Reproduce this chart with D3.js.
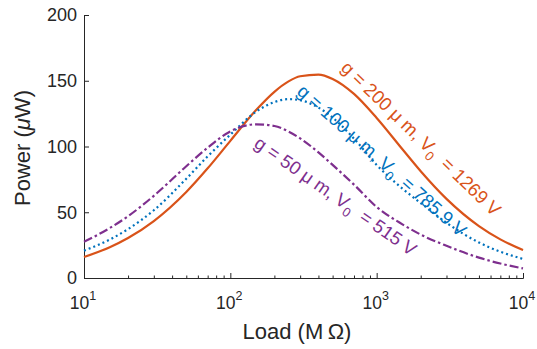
<!DOCTYPE html>
<html>
<head>
<meta charset="utf-8">
<script src="https://cdn.jsdelivr.net/npm/d3@7"></script>
<style>
  body { margin: 0; background: #fff; }
  svg { font-family: "Liberation Sans", Arial, Helvetica, sans-serif; }
  .axis path, .axis line { stroke: #262626; stroke-width: 1; }
  .axis text { fill: #262626; font-size: 18px; }
</style>
</head>
<body>
<div id="chart"></div>
<script>
// load resistance (MOhm), sampled on a log grid
var loads = [10, 15, 20, 30, 50, 70, 100, 150, 200, 250, 300, 400, 500, 700, 1000, 1500, 2000, 3000, 5000, 7000, 10000];

// output power (uW) for each gap
var power200 = [16.0, 23.4, 30.4, 43.3, 65.4, 83.4, 104.3, 127.7, 141.6, 149.5, 153.4, 154.7, 151.4, 140.0, 121.7, 97.9, 81.2, 60.2, 39.5, 29.4, 21.2];
var power100 = [20.8, 29.2, 37.2, 51.5, 75.5, 92.5, 109.0, 126.5, 133.8, 136.0, 135.2, 129.6, 122.0, 106.0, 86.0, 68.0, 57.0, 42.0, 27.0, 20.0, 14.5];
var power50  = [27.5, 38.0, 47.0, 62.5, 85.0, 99.1, 111.5, 116.9, 115.6, 111.4, 106.2, 95.5, 86.0, 71.0, 54.0, 40.8, 33.0, 24.5, 15.5, 11.0, 7.3];

var xMajor = [10, 100, 1000, 10000];
var xExp = ["1", "2", "3", "4"];
var yTicks = [0, 50, 100, 150, 200];

var series = [
    {gap: "200", volt: "1269", values: power200, color: "#D95319", dash: null},
    {gap: "100", volt: "785.9", values: power100, color: "#0072BD", dash: "2,3"},
    {gap: "50", volt: "515", values: power50, color: "#7E2F8E", dash: "9,3,2.5,3"}
];

var width = 537, height = 349;
var plotLeft = 84, plotRight = 523, plotTop = 15, plotBottom = 278;

var svg = d3.select("#chart").append("svg")
    .attr("width", width)
    .attr("height", height);

var x = d3.scaleLog().domain([10, 10000]).range([plotLeft, plotRight]);
var y = d3.scaleLinear().domain([0, 200]).range([plotBottom, plotTop]);

// minor ticks 2..9 inside each decade
var xMinor = [];
for (var d = 10; d < 10000; d *= 10) {
    for (var k = 2; k < 10; k++) xMinor.push(d * k);
}

svg.append("g")
    .attr("class", "axis")
    .attr("transform", "translate(0," + plotBottom + ")")
    .call(d3.axisBottom(x).tickValues(xMinor).tickSize(-2.5).tickSizeOuter(0).tickFormat(""));

svg.append("g")
    .attr("class", "axis")
    .attr("transform", "translate(0," + plotBottom + ")")
    .call(d3.axisBottom(x).tickValues(xMajor).tickSize(-5).tickSizeOuter(0).tickFormat(""));

// powers of ten with a raised exponent
xMajor.forEach(function(v, i) {
    var t = svg.append("text")
        .attr("x", x(v) - 1)
        .attr("y", 309)
        .attr("text-anchor", "middle")
        .style("font-size", "17.5px")
        .style("fill", "#262626");
    t.append("tspan").text("10");
    t.append("tspan").attr("dy", -9).style("font-size", "12.5px").text(xExp[i]);
});

svg.append("g")
    .attr("class", "axis")
    .attr("transform", "translate(" + plotLeft + ",0)")
    .call(d3.axisLeft(y).tickValues(yTicks).tickSize(-5).tickSizeOuter(0).tickPadding(7));

// axis titles
svg.append("text")
    .attr("x", 297)
    .attr("y", 339)
    .attr("text-anchor", "middle")
    .style("font-size", "22px")
    .style("fill", "#262626")
    .text("Load (M\u2009\u03A9)");

var yl = svg.append("text")
    .attr("transform", "translate(30,148) rotate(-90)")
    .attr("text-anchor", "middle")
    .style("font-size", "22px")
    .style("fill", "#262626");
yl.append("tspan").text("Power (");
yl.append("tspan").style("font-style", "italic").text("\u03BC");
yl.append("tspan").text("W)");

var line = d3.line()
    .x(function(d) { return x(d[0]); })
    .y(function(d) { return y(d[1]); })
    .curve(d3.curveMonotoneX);

series.forEach(function(s) {
    svg.append("path")
        .datum(loads.map(function(l, i) { return [l, s.values[i]]; }))
        .attr("fill", "none")
        .attr("stroke", s.color)
        .attr("stroke-width", 2.2)
        .attr("stroke-dasharray", s.dash)
        .attr("d", line);
});

// rotated curve labels
var labelPos = [
    {px: 340, py: 69, angle: 44},
    {px: 296, py: 93, angle: 41.5},
    {px: 253, py: 146, angle: 35}
];

series.forEach(function(s, i) {
    var p = labelPos[i];
    var t = svg.append("text")
        .attr("transform", "translate(" + p.px + "," + p.py + ") rotate(" + p.angle + ")")
        .attr("xml:space", "preserve")
        .style("white-space", "pre")
        .style("font-size", "18.5px")
        .style("fill", s.color);
    t.append("tspan").text("g = " + s.gap + " \u03BC m, V");
    t.append("tspan").attr("dy", 5).style("font-size", "13px").text("0");
    t.append("tspan").attr("dy", -5).text("  = " + s.volt + " V");
});
</script>
</body>
</html>
